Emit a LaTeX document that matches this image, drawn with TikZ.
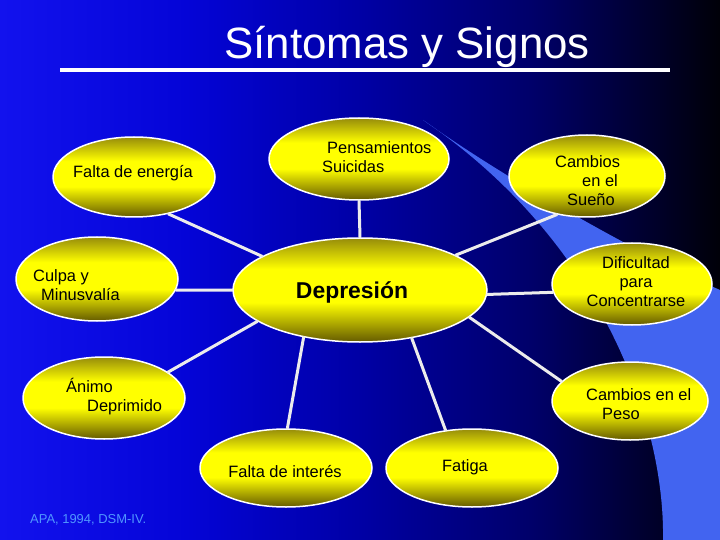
\documentclass[tikz,border=0pt]{standalone}
\usepackage{fontspec}
\setmainfont{Liberation Sans}
\usetikzlibrary{shapes.geometric}
\definecolor{slideA}{RGB}{18,18,238}
\definecolor{slideB}{RGB}{4,4,215}
\definecolor{slideC}{RGB}{0,0,165}
\definecolor{slideD}{RGB}{0,0,105}
\definecolor{slideE}{RGB}{0,0,8}
\definecolor{swooshBlue}{RGB}{66,100,240}
\definecolor{eggTop}{RGB}{150,140,10}
\definecolor{eggMid}{RGB}{255,255,0}
\definecolor{eggBot}{RGB}{100,90,0}
\definecolor{linkGray}{RGB}{236,236,236}
\definecolor{refBlue}{RGB}{80,150,255}

\pgfdeclarehorizontalshading{slidebg}{100bp}{%
    color(0bp)=(slideA); color(25bp)=(slideA); color(38bp)=(slideB);
    color(50bp)=(slideC); color(62bp)=(slideD); color(75bp)=(slideE);
    color(100bp)=(slideE)}
\pgfdeclareverticalshading{yellowegg}{100bp}{%
    color(0bp)=(eggBot); color(25bp)=(eggBot); color(44bp)=(eggMid);
    color(60bp)=(eggMid); color(75bp)=(eggTop); color(100bp)=(eggTop)}

\begin{document}
\begin{tikzpicture}[
    x=1bp,y=-1bp,
    line cap=round,
    line join=round,
    every node/.style={font=\fontsize{16.5}{19}\selectfont},
    sintoma/.style={
        ellipse,
        draw=white,
        line width=1.5bp,
        shade,
        shading=yellowegg,
        inner sep=0pt
    },
    link/.style={draw=linkGray, line width=3bp},
    lab/.style={text=black, inner sep=0pt},
    labl/.style={lab, align=left, anchor=west},
    labc/.style={lab, align=center}
]

\useasboundingbox (0,0) rectangle (720,540);

% ============================================================
% slide background
% ============================================================

\shade[shading=slidebg] (0,0) rectangle (720,540);
\fill[swooshBlue]
    (423,120)
    .. controls (500,175) and (630,250) .. (720,290)
    -- (720,540) -- (663,540)
    .. controls (665,420) and (600,240) .. (423,120);

\node[text=white, font=\fontsize{44}{50}\selectfont, anchor=base, inner sep=0pt]
    (titulo) at (407,59) {Síntomas y Signos};
\draw[white, line width=4bp, line cap=butt] (60,70) -- (670,70);

% ============================================================
% ellipses
% ============================================================

\node[sintoma, minimum width=254bp, minimum height=104bp] (dep) at (360,290) {};
\node[sintoma, minimum width=180bp, minimum height=82bp]  (pen) at (359,159) {};
\node[sintoma, minimum width=162bp, minimum height=80bp]  (ene) at (134,177) {};
\node[sintoma, minimum width=162bp, minimum height=84bp]  (cul) at (97,279) {};
\node[sintoma, minimum width=162bp, minimum height=82bp]  (ani) at (104,398) {};
\node[sintoma, minimum width=172bp, minimum height=78bp]  (int) at (286,468) {};
\node[sintoma, minimum width=172bp, minimum height=78bp]  (fat) at (472,468) {};
\node[sintoma, minimum width=156bp, minimum height=78bp]  (peso) at (630,401) {};
\node[sintoma, minimum width=160bp, minimum height=82bp]  (dif) at (632,284) {};
\node[sintoma, minimum width=156bp, minimum height=82bp]  (sue) at (587,176) {};

% ============================================================
% links to the centre
% ============================================================

\draw[link] (dep.90)   -- (pen.-90);
\draw[link] (dep.161)  -- (ene.-47);
\draw[link] (dep.180)  -- (cul.-8);
\draw[link] (dep.-163) -- (ani.22);
\draw[link] (dep.-140) -- (int.88);
\draw[link] (dep.-43)  -- (fat.125);
\draw[link] (dep.-14)  -- (peso.164);
\draw[link] (dep.-2)   -- (dif.-174);
\draw[link] (dep.20)   -- (sue.-128);

% ============================================================
% labels
% ============================================================

\node[labc, font=\fontsize{23}{27}\selectfont\bfseries] (depT) at (352,292) {Depresión};
\node[labl] (penT) at (322,157) {\hspace*{5bp}Pensamientos\\Suicidas};
\node[labc] (eneT) at (133,173) {Falta de energía};
\node[labl] (culT) at (33,285) {Culpa y\\\hspace*{8bp}Minusvalía};
\node[labl] (aniT) at (66,397) {Ánimo\\\hspace*{21bp}Deprimido};
\node[labc] (intT) at (285,472) {Falta de interés};
\node[labc] (fatT) at (465,467) {Fatiga};
\node[labl] (pesoT) at (586,404) {Cambios en el\\\hspace*{16bp}Peso};
\node[labc] (difT) at (636,282) {Dificultad\\para\\Concentrarse};
\node[labl] (sueT) at (555,181) {Cambios\\\hspace*{27bp}en el\\\hspace*{12bp}Sueño};

\node[text=refBlue, font=\fontsize{13}{15}\selectfont, anchor=west, inner sep=0pt]
    (fuente) at (30,520) {APA, 1994, DSM-IV.};

\end{tikzpicture}
\end{document}
